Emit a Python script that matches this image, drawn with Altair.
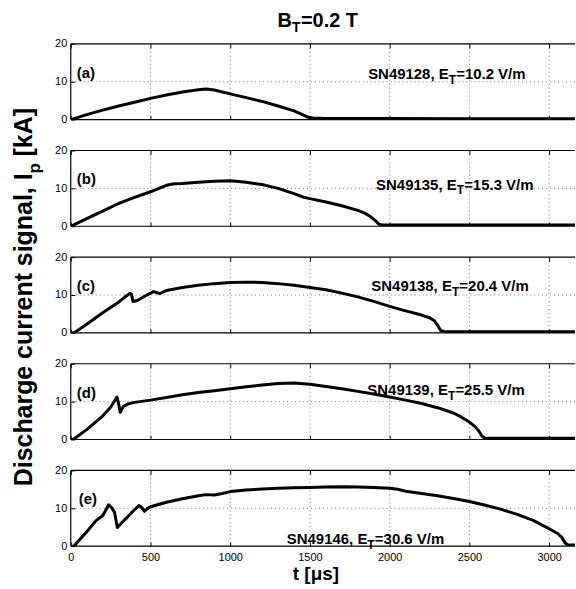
import altair as alt
import pandas as pd

T_MAX = 3162
X_TICKS = [0, 500, 1000, 1500, 2000, 2500, 3000]
Y_TICKS = [0, 10, 20]
FONT = "Liberation Sans"
W, H = 506, 76

# ---- data ----
t_a = [0, 100, 200, 300, 400, 500, 600, 700, 800, 850, 900, 1000, 1100, 1200, 1300, 1400, 1450, 1490, 1520, 1600, 2000, 2500, 3000, 3162]
i_a = [0, 1.3, 2.5, 3.6, 4.6, 5.6, 6.5, 7.3, 7.9, 8.1, 7.8, 6.8, 5.8, 4.8, 3.6, 2.3, 1.4, 0.6, 0.4, 0.3, 0.3, 0.25, 0.25, 0.25]

t_b = [0, 100, 200, 300, 330, 400, 500, 600, 650, 700, 800, 900, 1000, 1100, 1200, 1300, 1400, 1450, 1500, 1600, 1700, 1800, 1850, 1880, 1910, 1930, 1950, 2100, 3162]
i_b = [0, 2.0, 4.0, 6.0, 6.5, 7.6, 9.1, 10.8, 11.2, 11.3, 11.6, 11.9, 12.0, 11.6, 11.0, 10.0, 8.6, 7.8, 7.3, 6.4, 5.4, 4.2, 3.3, 2.5, 1.5, 0.6, 0.35, 0.3, 0.3]

t_c = [0, 20, 100, 200, 300, 350, 370, 380, 390, 420, 460, 500, 520, 540, 560, 600, 700, 800, 900, 1000, 1100, 1200, 1300, 1400, 1500, 1600, 1700, 1800, 1900, 2000, 2100, 2200, 2250, 2280, 2300, 2320, 2340, 2500, 3162]
i_c = [0, 0, 2.3, 5.3, 8.1, 9.8, 10.4, 10.3, 8.3, 8.6, 9.6, 10.5, 10.9, 10.6, 10.4, 11.2, 12.0, 12.6, 13.0, 13.3, 13.4, 13.3, 13.0, 12.6, 12.0, 11.4, 10.5, 9.5, 8.3, 7.0, 5.8, 4.7, 4.0, 3.2, 2.0, 0.6, 0.35, 0.3, 0.3]

t_d = [0, 15, 100, 200, 250, 290, 300, 310, 330, 360, 400, 500, 600, 700, 800, 900, 1000, 1100, 1200, 1300, 1400, 1500, 1600, 1700, 1800, 1900, 2000, 2100, 2200, 2300, 2400, 2450, 2500, 2540, 2560, 2580, 2600, 2800, 3162]
i_d = [0, 0, 2.6, 6.2, 8.5, 11.2, 9.5, 7.2, 8.7, 9.4, 9.8, 10.4, 11.1, 11.8, 12.4, 12.9, 13.4, 13.9, 14.4, 14.8, 14.9, 14.6, 14.0, 13.4, 12.7, 12.0, 11.2, 10.4, 9.5, 8.4, 7.0, 5.9, 4.6, 3.2, 2.2, 0.8, 0.3, 0.3, 0.3]

t_e = [0, 20, 100, 160, 200, 238, 260, 275, 292, 320, 354, 390, 427, 445, 463, 480, 500, 600, 700, 800, 850, 900, 950, 1000, 1100, 1200, 1300, 1400, 1500, 1600, 1700, 1800, 1900, 2000, 2050, 2100, 2200, 2300, 2400, 2500, 2600, 2700, 2800, 2900, 3000, 3050, 3080, 3100, 3120, 3162]
i_e = [0, 0, 3.8, 6.8, 8.0, 10.9, 10.0, 8.8, 4.9, 6.2, 7.6, 9.2, 10.7, 10.2, 9.2, 9.9, 10.4, 11.6, 12.5, 13.3, 13.6, 13.5, 13.9, 14.4, 14.8, 15.1, 15.3, 15.4, 15.5, 15.6, 15.7, 15.6, 15.5, 15.3, 15.0, 14.5, 13.9, 13.3, 12.6, 11.8, 10.8, 9.7, 8.4, 6.8, 4.6, 3.4, 2.3, 0.8, 0.3, 0.3]

tags = ["(a)", "(b)", "(c)", "(d)", "(e)"]
tag_t = [38, 38, 38, 38, 50]
tag_v = [12.3, 12.5, 12.3, 12.3, 12.4]
shots = ["SN49128, E", "SN49135, E", "SN49138, E", "SN49139, E", "SN49146, E"]
fields = ["=10.2 V/m", "=15.3 V/m", "=20.4 V/m", "=25.5 V/m", "=30.6 V/m"]
shot_t = [2370, 2420, 2390, 2365, 1860]
shot_v = [10.8, 9.7, 11.0, 11.8, 0.6]

XS = alt.Scale(domain=[0, T_MAX], nice=False, zero=False)
YS = alt.Scale(domain=[0, 20], nice=False, zero=False)


def txt(x, y, s, **kw):
    base = dict(font=FONT, color="black", fontWeight="bold", baseline="alphabetic")
    base.update(kw)
    return alt.Chart(pd.DataFrame({"s": [s]})).mark_text(**base).encode(
        x=x, y=y, text="s:N")


def data_text(t, v, s, **kw):
    base = dict(font=FONT, color="black", fontWeight="bold", baseline="alphabetic")
    base.update(kw)
    return alt.Chart(pd.DataFrame({"t": [t], "v": [v], "s": [s]})).mark_text(**base).encode(
        x=alt.X("t:Q", scale=XS, axis=None),
        y=alt.Y("v:Q", scale=YS, axis=None),
        text="s:N")


def panel(k, t, cur, extra):
    last = k == 4
    curve = alt.Chart(pd.DataFrame({"t": t, "I": cur})).mark_line(
        color="black", strokeWidth=3, strokeJoin="round", clip=True
    ).encode(
        x=alt.X("t:Q", scale=XS, axis=alt.Axis(
            orient="bottom", values=X_TICKS, labels=last, title=None, domain=False, grid=False,
            tickSize=4, offset=-4, tickColor="black", labelPadding=5, labelFontSize=11,
            labelFont=FONT, labelColor="black", format="d", labelFlush=False)),
        y=alt.Y("I:Q", scale=YS, axis=alt.Axis(
            values=Y_TICKS, title=None, domain=False, grid=False, tickSize=4, offset=-4,
            tickColor="black", labelPadding=4, labelFontSize=11, labelFont=FONT,
            labelColor="black", labelFlush=False)),
    )
    gx = alt.Chart(pd.DataFrame({"t": X_TICKS[1:]})).mark_rule(
        strokeDash=[1, 3], color="black", strokeWidth=0.8, opacity=0.7
    ).encode(x=alt.X("t:Q", scale=XS, axis=alt.Axis(
        orient="top", values=X_TICKS, labels=False, title=None, domain=False, grid=False,
        tickSize=4, offset=-4, tickColor="black")))
    gy = alt.Chart(pd.DataFrame({"v": [10]})).mark_rule(
        strokeDash=[1, 3], color="black", strokeWidth=0.8, opacity=0.7
    ).encode(y=alt.Y("v:Q", scale=YS, axis=None))
    frame_h = alt.Chart(pd.DataFrame({"v": [0, 20]})).mark_rule(
        color="black", strokeWidth=1.2).encode(y=alt.Y("v:Q", scale=YS, axis=None))
    frame_v = alt.Chart(pd.DataFrame({"t": [0]})).mark_rule(
        color="black", strokeWidth=1.2).encode(x=alt.X("t:Q", scale=XS, axis=None))
    layers = [gx, gy, frame_h, frame_v, curve,
              data_text(tag_t[k], tag_v[k], tags[k], fontSize=15, baseline="middle", align="left"),
              data_text(shot_t[k], shot_v[k], shots[k], fontSize=15, align="right"),
              data_text(shot_t[k], shot_v[k], "T", fontSize=12, align="left", dy=5),
              data_text(shot_t[k], shot_v[k], fields[k], fontSize=15, align="left", dx=7.5)]
    layers += extra
    return alt.layer(*layers).resolve_axis(x="independent", y="independent").properties(
        width=W, height=H)


title_layers = [
    txt(alt.value(222), alt.value(-17), "B", fontSize=20, align="right"),
    txt(alt.value(222), alt.value(-17), "T", fontSize=14, align="left", dy=5),
    txt(alt.value(222), alt.value(-17), "=0.2 T", fontSize=20, align="left", dx=9),
]
ylabel_layers = [
    txt(alt.value(-39), alt.value(-84), "Discharge current signal, I", fontSize=25, align="right", angle=270),
    txt(alt.value(-39), alt.value(-84), "p", fontSize=17, align="left", angle=270, dy=8),
    txt(alt.value(-39), alt.value(-84), "[kA]", fontSize=25, align="left", angle=270, dx=17),
]
xlabel_layers = [
    txt(alt.value(246), alt.value(110), "t [μs]", fontSize=19, align="center"),
]

series = [(t_a, i_a), (t_b, i_b), (t_c, i_c), (t_d, i_d), (t_e, i_e)]
extras = [title_layers, [], ylabel_layers, [], xlabel_layers]
panels = [panel(k, s[0], s[1], extras[k]) for k, s in enumerate(series)]

chart = alt.vconcat(*panels, spacing=31, bounds="flush").properties(
    padding={"left": 11, "top": 10, "right": 0, "bottom": 2},
    background="white",
).configure_view(strokeWidth=0)

chart.save("out.html", embed_options={"renderer": "svg", "actions": False})
